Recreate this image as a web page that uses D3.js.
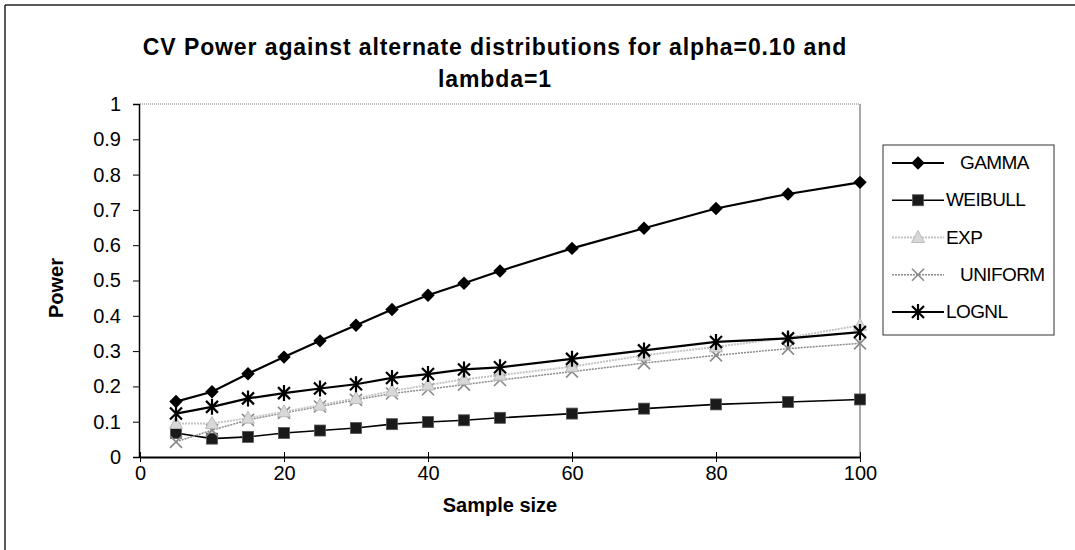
<!DOCTYPE html>
<html>
<head>
<meta charset="utf-8">
<script src="https://cdn.jsdelivr.net/npm/d3@7"></script>
<style>
  html, body { margin: 0; padding: 0; background: #fff; }
  svg { display: block; font-family: "Liberation Sans", Arial, sans-serif; }
</style>
</head>
<body>
<svg id="chart" width="1075" height="550"></svg>
<script>
// ---- data ----
const sampleSizes = [5, 10, 15, 20, 25, 30, 35, 40, 45, 50, 60, 70, 80, 90, 100];
const gamma   = [0.157, 0.185, 0.236, 0.283, 0.329, 0.373, 0.418, 0.458, 0.492, 0.527, 0.591, 0.648, 0.704, 0.745, 0.778];
const weibull = [0.068, 0.052, 0.057, 0.068, 0.075, 0.082, 0.093, 0.099, 0.104, 0.111, 0.123, 0.137, 0.149, 0.156, 0.163];
const expo    = [0.095, 0.095, 0.110, 0.128, 0.147, 0.166, 0.187, 0.204, 0.220, 0.232, 0.256, 0.288, 0.312, 0.338, 0.373];
const uniform = [0.043, 0.076, 0.105, 0.125, 0.143, 0.162, 0.180, 0.192, 0.205, 0.218, 0.242, 0.266, 0.288, 0.307, 0.322];
const lognl   = [0.123, 0.142, 0.166, 0.181, 0.194, 0.206, 0.224, 0.235, 0.248, 0.254, 0.278, 0.302, 0.326, 0.336, 0.354];
const seriesNames = ["GAMMA", "WEIBULL", "EXP", "UNIFORM", "LOGNL"];
const legendLabels = ["   GAMMA", "WEIBULL", "EXP", "   UNIFORM", "LOGNL"];
const xTicks = [0, 20, 40, 60, 80, 100];
const yTicks = [0, 0.1, 0.2, 0.3, 0.4, 0.5, 0.6, 0.7, 0.8, 0.9, 1];
const titleLines = ["CV Power against alternate distributions for alpha=0.10 and", "lambda=1"];
const xTitle = "Sample size";
const yTitle = "Power";

// ---- styles ----
const styles = {
  GAMMA:   { stroke: "#000", width: 2.2, dash: null, marker: "diamond" },
  WEIBULL: { stroke: "#000", width: 1.6, dash: null, marker: "square" },
  EXP:     { stroke: "#c4c4c4", width: 2, dash: "2,1", marker: "triangle" },
  UNIFORM: { stroke: "#8a8a8a", width: 1.5, dash: "2,1", marker: "x" },
  LOGNL:   { stroke: "#000", width: 2.2, dash: null, marker: "star" }
};
const valuesBy = { GAMMA: gamma, WEIBULL: weibull, EXP: expo, UNIFORM: uniform, LOGNL: lognl };

const svg = d3.select("#chart");
const W = 1075, H = 550;
const plot = { left: 140, right: 860, top: 104, bottom: 457 };

const x = d3.scaleLinear().domain([0, 100]).range([plot.left, plot.right]);
const y = d3.scaleLinear().domain([0, 1]).range([plot.bottom, plot.top]);

// outer frame
svg.append("line").attr("x1", 5).attr("x2", W).attr("y1", 5).attr("y2", 5)
  .attr("stroke", "#222").attr("stroke-width", 1.5);
svg.append("line").attr("x1", 5).attr("x2", 5).attr("y1", 5).attr("y2", H)
  .attr("stroke", "#222").attr("stroke-width", 1.5);

// title
const title = svg.append("text").attr("text-anchor", "middle")
  .attr("font-weight", "bold").attr("font-size", 23).attr("letter-spacing", 0.9).attr("fill", "#000");
title.selectAll("tspan").data(titleLines).join("tspan")
  .attr("x", 495).attr("y", (d, i) => 55 + i * 32).text(d => d);

// plot area border (top & right)
svg.append("line").attr("x1", plot.left).attr("x2", plot.right)
  .attr("y1", plot.top).attr("y2", plot.top)
  .attr("stroke", "#777").attr("stroke-width", 1).attr("stroke-dasharray", "1,1");
svg.append("line").attr("x1", plot.right).attr("x2", plot.right)
  .attr("y1", plot.top).attr("y2", plot.bottom)
  .attr("stroke", "#555").attr("stroke-width", 1);

// y axis
const yAxis = svg.append("g").attr("transform", `translate(${plot.left - 1},0)`)
  .call(d3.axisLeft(y).tickValues(yTicks).tickSize(6).tickPadding(12)
    .tickFormat(d => d === 0 ? "0" : d === 1 ? "1" : d3.format(".1f")(d)));
yAxis.select(".domain").attr("stroke", "#000").attr("stroke-width", 1.5);
yAxis.selectAll(".tick line").attr("stroke", "#000");
yAxis.selectAll(".tick text").attr("font-size", 20).attr("fill", "#000")
  .attr("font-family", "Liberation Sans, Arial, sans-serif");

// x axis
const xAxis = svg.append("g").attr("transform", `translate(0,${plot.bottom})`)
  .call(d3.axisBottom(x).tickValues(xTicks).tickSize(5).tickPadding(4).tickSizeOuter(0));
xAxis.select(".domain").attr("stroke", "#000").attr("stroke-width", 2);
xAxis.selectAll(".tick line").attr("stroke", "#000").attr("y1", -5);
xAxis.selectAll(".tick text").attr("font-size", 20).attr("fill", "#000")
  .attr("font-family", "Liberation Sans, Arial, sans-serif");

// axis titles
svg.append("text").attr("x", 500).attr("y", 512).attr("text-anchor", "middle")
  .attr("font-weight", "bold").attr("font-size", 20).text(xTitle);
svg.append("text").attr("transform", "translate(63,288) rotate(-90)")
  .attr("text-anchor", "middle").attr("font-weight", "bold").attr("font-size", 20).text(yTitle);

// marker drawing
function drawMarker(g, type) {
  if (type === "diamond") {
    g.append("path").attr("d", d3.symbol(d3.symbolSquare, 90)()).attr("transform", "rotate(45)")
      .attr("fill", "#000");
  } else if (type === "square") {
    g.append("rect").attr("x", -5.5).attr("y", -5.5).attr("width", 11).attr("height", 11)
      .attr("fill", "#1a1a1a").attr("stroke", "#555").attr("stroke-width", 0.8);
  } else if (type === "triangle") {
    g.append("path").attr("d", "M0,-7 L6.5,5 L-6.5,5 Z")
      .attr("fill", "#d8d8d8").attr("stroke", "#bbb").attr("stroke-width", 1);
  } else if (type === "x") {
    g.append("path").attr("d", "M-6,-6 L6,6 M-6,6 L6,-6")
      .attr("stroke", "#8a8a8a").attr("stroke-width", 1.6).attr("fill", "none");
  } else if (type === "star") {
    g.append("path").attr("d", "M-6,-6 L6,6 M-6,6 L6,-6 M0,-8 L0,8")
      .attr("stroke", "#000").attr("stroke-width", 2.2).attr("fill", "none");
  }
}

const line = d3.line().x(d => x(d[0])).y(d => y(d[1]));
const drawOrder = ["WEIBULL", "UNIFORM", "EXP", "LOGNL", "GAMMA"];
drawOrder.forEach(name => {
  const st = styles[name];
  const pts = sampleSizes.map((s, i) => [s, valuesBy[name][i]]);
  svg.append("path").datum(pts).attr("d", line).attr("fill", "none")
    .attr("stroke", st.stroke).attr("stroke-width", st.width)
    .attr("stroke-dasharray", st.dash);
  const mg = svg.append("g");
  pts.forEach(p => {
    const g = mg.append("g").attr("transform", `translate(${x(p[0])},${y(p[1])})`);
    drawMarker(g, st.marker);
  });
});

// legend
const lg = svg.append("g");
lg.append("rect").attr("x", 883).attr("y", 145).attr("width", 171).attr("height", 190)
  .attr("fill", "#fff").attr("stroke", "#333").attr("stroke-width", 1);
const rowY = d3.scalePoint().domain(seriesNames).range([163, 312]);
seriesNames.forEach((name, i) => {
  const st = styles[name];
  const yy = rowY(name);
  lg.append("line").attr("x1", 892).attr("x2", 944).attr("y1", yy).attr("y2", yy)
    .attr("stroke", st.stroke).attr("stroke-width", st.width).attr("stroke-dasharray", st.dash);
  const g = lg.append("g").attr("transform", `translate(918,${yy})`);
  drawMarker(g, st.marker);
  lg.append("text").attr("x", 946).attr("y", yy + 6).attr("font-size", 19)
    .attr("letter-spacing", -0.6)
    .style("white-space", "pre").attr("xml:space", "preserve").text(legendLabels[i]);
});
</script>
</body>
</html>
